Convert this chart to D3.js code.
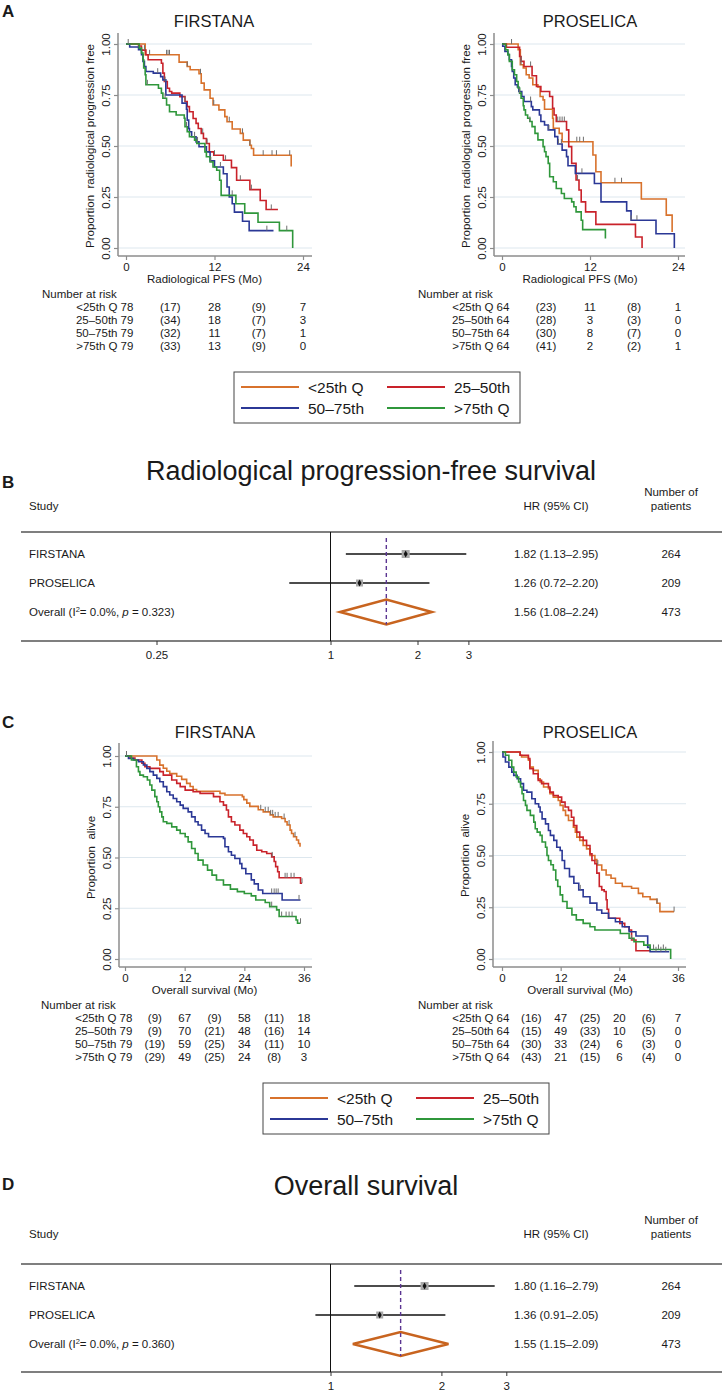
<!DOCTYPE html>
<html><head><meta charset="utf-8">
<script src="https://cdn.jsdelivr.net/npm/d3@7"></script>
<style>
html,body{margin:0;padding:0;background:#fff;}
svg{display:block;font-family:"Liberation Sans",Arial,Helvetica,sans-serif;}
text{white-space:pre;}
</style></head><body>
<svg id="fig" width="722" height="1393"></svg>
<script>
// ================= DATA =================
const groups = ["<25th Q", "25–50th", "50–75th", ">75th Q"];
const survTicks = [0, 0.25, 0.5, 0.75, 1];
const pfsTicks = [0, 12, 24];
const osTicks = [0, 12, 24, 36];
const pfsRiskTimes = [0, 6, 12, 18, 24];
const osRiskTimes = [0, 6, 12, 18, 24, 30, 36];

// Panel A - FIRSTANA (radiological PFS), [month, survival] step points
const pfsFirstanaQ1 = [[0,1],[2.6,0.947],[7.2,0.911],[8.3,0.89],[8.7,0.874],[9.9,0.854],[10.2,0.808],[10.6,0.775],[11.4,0.734],[11.8,0.701],[12.6,0.677],[13.4,0.644],[13.7,0.619],[14.4,0.583],[15.5,0.562],[15.9,0.529],[16.8,0.504],[17.0,0.488],[17.3,0.455],[22.4,0.40]];
const pfsFirstanaQ1Cens = [0.3,3.2,5.5,5.7,5.9,8.3,10.1,11.9,14.0,15.8,16.8,18.6,19.8,20.4,22.2];
const pfsFirstanaQ2 = [[0,1],[1.7,0.99],[2.1,0.97],[2.7,0.947],[3.0,0.923],[4.8,0.906],[5.0,0.857],[5.2,0.816],[5.6,0.783],[5.9,0.767],[6.2,0.759],[7.3,0.742],[8.0,0.718],[8.3,0.693],[8.6,0.668],[9.1,0.635],[9.5,0.611],[9.8,0.586],[10.2,0.562],[10.5,0.537],[10.9,0.512],[11.3,0.471],[11.9,0.455],[13.2,0.43],[14.3,0.394],[15.0,0.332],[16.8,0.286],[18.2,0.233],[19.0,0.189],[20.6,0.189]];
const pfsFirstanaQ2Cens = [2.5,5.3,8.0,10.4,11.0,12.0,13.5,15.5,17.0,19.7];
const pfsFirstanaQ3 = [[0,1],[0.5,0.985],[1.7,0.972],[2.1,0.947],[2.3,0.915],[2.5,0.89],[2.7,0.865],[3.7,0.857],[4.7,0.84],[5.0,0.824],[5.4,0.75],[7.6,0.71],[8.2,0.68],[8.3,0.627],[8.5,0.586],[8.6,0.57],[8.9,0.545],[9.5,0.52],[9.9,0.496],[10.9,0.471],[11.4,0.427],[12.0,0.397],[13.2,0.364],[13.7,0.299],[14.0,0.25],[14.4,0.217],[14.7,0.176],[15.8,0.131],[16.7,0.085],[20.0,0.085]];
const pfsFirstanaQ3Cens = [4.3,9.3,9.7,12.8,19.1];
const pfsFirstanaQ4 = [[0,1],[1.8,0.98],[2.1,0.956],[2.3,0.923],[2.4,0.882],[2.6,0.849],[2.7,0.8],[4.4,0.783],[4.8,0.759],[5.0,0.734],[5.5,0.701],[5.9,0.668],[6.8,0.652],[7.9,0.636],[8.0,0.594],[8.3,0.57],[8.6,0.545],[9.3,0.529],[9.6,0.512],[10.7,0.471],[10.9,0.447],[11.4,0.422],[11.8,0.397],[12.3,0.381],[12.7,0.332],[12.9,0.258],[14.9,0.217],[16.1,0.171],[17.9,0.126],[20.8,0.085],[22.6,0]];
const pfsFirstanaQ4Cens = [2.9,5.3,8.2,11.5,14.4,21.8];

// Panel A - PROSELICA (radiological PFS)
const pfsProselicaQ1 = [[0,1],[2.2,0.972],[2.5,0.898],[2.9,0.882],[3.3,0.849],[3.7,0.833],[4.2,0.8],[4.9,0.789],[5.2,0.743],[5.6,0.726],[5.8,0.68],[6.9,0.636],[7.0,0.587],[7.8,0.562],[8.2,0.521],[12.4,0.456],[12.8,0.374],[13.5,0.32],[19.0,0.24],[22.4,0.161],[23.2,0.079]];
const pfsProselicaQ1Cens = [1.3,2.6,10.2,10.6,11.1,15.4,16.3];
const pfsProselicaQ2 = [[0,1],[0.6,0.984],[2.4,0.939],[2.6,0.915],[3.0,0.89],[4.1,0.844],[4.7,0.792],[5.3,0.767],[6.5,0.743],[6.9,0.685],[7.1,0.652],[7.4,0.62],[8.8,0.579],[9.1,0.497],[9.5,0.415],[10.1,0.333],[10.5,0.284],[10.8,0.226],[11.4,0.177],[12.8,0.116],[18.2,0.054],[19.1,0]];
const pfsProselicaQ2Cens = [2.6,3.9,7.6,7.9,8.2,8.5,10.3];
const pfsProselicaQ3 = [[0,1],[0.1,0.989],[0.4,0.964],[0.8,0.948],[1.0,0.923],[1.3,0.89],[1.4,0.866],[1.6,0.833],[1.8,0.8],[2.1,0.789],[2.3,0.767],[2.7,0.743],[3.0,0.718],[4.0,0.693],[4.2,0.677],[5.1,0.652],[5.3,0.62],[5.8,0.603],[6.3,0.579],[7.2,0.546],[7.6,0.51],[8.2,0.48],[8.8,0.448],[9.0,0.403],[10.0,0.366],[12.6,0.316],[13.5,0.226],[17.0,0.182],[17.6,0.136],[21.0,0.07],[23.5,0]];
const pfsProselicaQ3Cens = [3.9,6.4,7.7,8.1,10.9,17.6,18.4];
const pfsProselicaQ4 = [[0,1],[0.5,0.972],[0.8,0.948],[1.0,0.915],[1.4,0.874],[1.7,0.849],[2.0,0.816],[2.2,0.784],[2.4,0.759],[2.6,0.734],[2.9,0.697],[3.0,0.677],[3.2,0.652],[3.5,0.636],[3.8,0.62],[4.1,0.595],[4.5,0.562],[4.9,0.53],[5.6,0.497],[5.8,0.472],[6.0,0.448],[6.3,0.415],[6.5,0.349],[7.0,0.325],[7.4,0.292],[8.1,0.267],[8.5,0.243],[9.5,0.226],[9.8,0.202],[10.1,0.177],[10.8,0.136],[11.0,0.09],[14.1,0.046]];
const pfsProselicaQ4Cens = [2.4,3.8];

// Panel C - FIRSTANA (overall survival)
const osFirstanaQ1 = [[0,1],[6.4,0.98],[7.0,0.955],[7.7,0.94],[8.4,0.925],[9.0,0.913],[10.4,0.9],[11.4,0.885],[12.4,0.865],[13.1,0.85],[13.7,0.835],[14.4,0.826],[19.1,0.816],[20.1,0.808],[23.6,0.8],[23.9,0.785],[24.5,0.768],[25.1,0.752],[26.8,0.735],[27.8,0.725],[29.2,0.71],[29.8,0.7],[31.5,0.692],[32.2,0.676],[32.6,0.66],[33.2,0.635],[33.5,0.618],[33.9,0.602],[34.5,0.586],[34.9,0.569],[35.2,0.553]];
const osFirstanaQ1Cens = [0.3,27.3,28.2,28.8,29.3,29.7,30.2,30.8,32.0,33.0,34.2];
const osFirstanaQ2 = [[0,1],[1.0,0.99],[2.0,0.98],[3.4,0.964],[4.0,0.947],[5.0,0.939],[7.0,0.923],[7.7,0.906],[9.4,0.882],[10.4,0.865],[11.1,0.849],[12.1,0.832],[13.7,0.824],[15.1,0.816],[17.8,0.8],[19.1,0.775],[19.8,0.758],[20.4,0.734],[20.8,0.7],[21.4,0.676],[22.1,0.66],[23.1,0.635],[23.8,0.618],[24.5,0.602],[25.1,0.586],[25.8,0.561],[26.5,0.536],[27.5,0.528],[28.5,0.52],[29.5,0.503],[30.0,0.48],[30.3,0.455],[30.7,0.43],[31.0,0.40],[35.3,0.373],[35.6,0.373]];
const osFirstanaQ2Cens = [0.3,29.6,32.2,32.6,33.4,34.0,35.6];
const osFirstanaQ3 = [[0,1],[0.7,0.988],[1.7,0.98],[2.7,0.972],[3.7,0.956],[4.4,0.939],[5.0,0.923],[5.7,0.906],[6.4,0.89],[7.0,0.873],[7.7,0.849],[8.4,0.824],[9.0,0.808],[9.7,0.791],[10.4,0.775],[11.1,0.758],[11.7,0.742],[12.7,0.725],[13.4,0.7],[14.1,0.676],[14.7,0.66],[15.4,0.635],[16.1,0.618],[16.8,0.602],[19.8,0.594],[20.1,0.553],[20.8,0.528],[21.4,0.511],[22.1,0.495],[23.1,0.47],[23.5,0.446],[24.3,0.42],[25.4,0.39],[26.0,0.37],[26.8,0.34],[27.7,0.323],[31.6,0.291],[35.3,0.291]];
const osFirstanaQ3Cens = [29.5,30.0,30.4,30.8,35.0];
const osFirstanaQ4 = [[0,1],[1.3,0.98],[2.3,0.947],[2.7,0.923],[3.0,0.906],[3.7,0.898],[4.5,0.882],[5.0,0.857],[5.4,0.832],[6.0,0.8],[6.4,0.775],[6.7,0.75],[7.0,0.725],[7.4,0.7],[7.7,0.676],[8.4,0.668],[9.4,0.651],[10.4,0.635],[11.1,0.618],[12.1,0.602],[12.7,0.577],[13.4,0.544],[14.1,0.52],[14.7,0.487],[15.7,0.463],[16.6,0.438],[17.5,0.413],[18.4,0.389],[19.8,0.365],[21.2,0.344],[22.6,0.332],[24.0,0.323],[25.4,0.311],[26.3,0.291],[28.2,0.278],[29.1,0.258],[30.5,0.242],[31.0,0.209],[34.4,0.192],[34.7,0.176],[35.3,0.176]];
const osFirstanaQ4Cens = [29.5,31.5,32.4,33.0,33.6,35.3];

// Panel C - PROSELICA (overall survival)
const osProselicaQ1 = [[0,1],[3.7,0.984],[4.0,0.976],[5.4,0.96],[5.7,0.927],[6.4,0.911],[7.4,0.871],[7.8,0.855],[8.5,0.831],[9.5,0.823],[9.8,0.798],[10.5,0.782],[11.5,0.766],[11.9,0.742],[12.5,0.718],[13.0,0.694],[13.6,0.669],[14.6,0.637],[15.0,0.613],[15.3,0.589],[15.9,0.573],[16.6,0.548],[17.3,0.532],[18.0,0.5],[19.0,0.48],[19.4,0.454],[20.4,0.43],[21.3,0.406],[22.3,0.39],[23.2,0.366],[24.6,0.35],[26.5,0.342],[27.9,0.317],[28.8,0.301],[30.3,0.288],[31.7,0.269],[32.3,0.229],[35.2,0.229]];
const osProselicaQ1Cens = [19.6,31.7,35.2];
const osProselicaQ2 = [[0,1],[3.7,0.984],[5.4,0.968],[5.7,0.919],[6.4,0.895],[7.4,0.863],[8.1,0.847],[9.5,0.831],[9.8,0.806],[10.5,0.79],[11.5,0.782],[12.2,0.758],[12.9,0.734],[13.6,0.718],[14.2,0.685],[14.7,0.645],[15.3,0.613],[15.9,0.589],[16.6,0.573],[17.3,0.548],[18.0,0.508],[18.4,0.476],[19.0,0.46],[19.4,0.415],[19.9,0.35],[20.4,0.334],[20.9,0.326],[21.3,0.286],[21.5,0.24],[21.8,0.197],[24.1,0.172],[25.1,0.156],[26.0,0.14],[26.5,0.092],[27.4,0.04],[30.3,0.04]];
const osProselicaQ2Cens = [26.5];
const osProselicaQ3 = [[0,1],[0.2,0.976],[0.7,0.952],[1.4,0.927],[2.0,0.903],[2.4,0.887],[3.1,0.871],[3.8,0.847],[4.4,0.815],[5.1,0.806],[6.1,0.774],[6.8,0.75],[7.5,0.734],[7.8,0.71],[8.2,0.677],[8.9,0.653],[9.5,0.621],[9.9,0.597],[10.6,0.573],[11.2,0.54],[11.9,0.524],[12.3,0.476],[12.8,0.437],[13.8,0.398],[14.7,0.366],[15.7,0.334],[16.6,0.301],[18.0,0.27],[19.4,0.237],[20.4,0.221],[21.8,0.197],[23.2,0.18],[24.6,0.156],[26.0,0.132],[27.4,0.111],[29.8,0.056],[30.3,0.035],[34.2,0.035]];
const osProselicaQ3Cens = [16.0,31.5,32.5,33.5];
const osProselicaQ4 = [[0,1],[0.7,0.984],[1.4,0.96],[2.0,0.927],[2.4,0.903],[2.9,0.879],[3.4,0.855],[3.8,0.831],[4.1,0.798],[4.4,0.766],[4.8,0.742],[5.1,0.718],[5.8,0.694],[6.5,0.661],[6.8,0.629],[7.2,0.613],[7.8,0.597],[8.2,0.565],[8.9,0.54],[9.2,0.5],[9.5,0.476],[10.0,0.455],[10.5,0.43],[11.0,0.382],[11.4,0.35],[11.9,0.31],[12.4,0.278],[13.3,0.245],[14.3,0.213],[15.2,0.189],[16.6,0.172],[18.0,0.156],[19.0,0.14],[24.2,0.123],[26.0,0.1],[27.0,0.083],[29.0,0.067],[30.3,0.046],[34.5,0]];
const osProselicaQ4Cens = [31.0,32.0,33.0];

// Number at risk (at-risk counts at even columns, events in parentheses at odd columns)
const pfsRiskFirstana = [[78,17,28,9,7],[79,34,18,7,3],[79,32,11,7,1],[79,33,13,9,0]];
const pfsRiskProselica = [[64,23,11,8,1],[64,28,3,3,0],[64,30,8,7,0],[64,41,2,2,1]];
const osRiskFirstana = [[78,9,67,9,58,11,18],[79,9,70,21,48,16,14],[79,19,59,25,34,11,10],[79,29,49,25,24,8,3]];
const osRiskProselica = [[64,16,47,25,20,6,7],[64,15,49,33,10,5,0],[64,30,33,24,6,3,0],[64,43,21,15,6,4,0]];

// Forest plots
const studies = ["FIRSTANA", "PROSELICA"];
const patients = [264, 209, 473];
const pfsHR = [1.82, 1.26], pfsLo = [1.13, 0.72], pfsHi = [2.95, 2.20];
const pfsOverall = [1.56, 1.08, 2.24];
const pfsHet = ["0.0%", "0.323"];
const pfsAxisTicks = [0.25, 1, 2, 3];
const osHR = [1.80, 1.36], osLo = [1.16, 0.91], osHi = [2.79, 2.05];
const osOverall = [1.55, 1.15, 2.09];
const osHet = ["0.0%", "0.360"];
const osAxisTicks = [1, 2, 3];

// ================= STYLE =================
const colors = ["#d8722c", "#c9222a", "#2b3896", "#2f973b"];
const gridColor = "#dde7ee";
const axisColor = "#8c8c8c";
const textColor = "#1a1a1a";

const svg = d3.select("#fig");
svg.append("rect").attr("width", 722).attr("height", 1393).attr("fill", "#fff");

function addText(parent, x, y, s, size, anchor = "start", weight = "normal") {
  return parent.append("text").attr("x", x).attr("y", y).attr("font-size", size)
    .attr("text-anchor", anchor).attr("font-weight", weight).attr("fill", textColor).text(s);
}

function stepValue(curve, t) {
  let v = curve[0][1];
  for (const d of curve) { if (d[0] <= t) v = d[1]; }
  return v;
}

function kmPanel(p) {
  const g = svg.append("g");
  const x = d3.scaleLinear().domain([0, p.tmax]).range([p.x0, p.x1]);
  const y = d3.scaleLinear().domain([0, 1]).range([p.yBot, p.yTop]);

  g.selectAll("line.grid").data(survTicks).join("line").attr("class", "grid")
    .attr("x1", p.axisX).attr("x2", p.gridRight)
    .attr("y1", d => y(d)).attr("y2", d => y(d))
    .attr("stroke", gridColor).attr("stroke-width", 1);

  // axis lines
  g.append("line").attr("x1", p.axisX).attr("x2", p.axisX).attr("y1", p.axisTop).attr("y2", p.xAxisY)
    .attr("stroke", axisColor).attr("stroke-width", 1.5);
  g.append("line").attr("x1", p.axisX).attr("x2", p.gridRight).attr("y1", p.xAxisY).attr("y2", p.xAxisY)
    .attr("stroke", axisColor).attr("stroke-width", 1.5);

  const ya = g.append("g").attr("transform", `translate(${p.axisX},0)`)
    .call(d3.axisLeft(y).tickValues(survTicks).tickFormat(d3.format(".2f")).tickSize(4).tickSizeOuter(0));
  ya.attr("font-family", null).attr("font-size", null);
  ya.select(".domain").remove();
  ya.selectAll("line").attr("stroke", axisColor).attr("stroke-width", 1.2);
  ya.selectAll("text").attr("transform", "rotate(-90)").attr("x", 0).attr("y", -8).attr("dy", null)
    .attr("text-anchor", "middle").attr("font-size", 11.5).attr("fill", textColor);

  const xa = g.append("g").attr("transform", `translate(0,${p.xAxisY})`)
    .call(d3.axisBottom(x).tickValues(p.ticks).tickSize(4).tickSizeOuter(0));
  xa.attr("font-family", null).attr("font-size", null);
  xa.select(".domain").remove();
  xa.selectAll("line").attr("stroke", axisColor).attr("stroke-width", 1.2);
  xa.selectAll("text").attr("font-size", 11.5).attr("fill", textColor).attr("y", 7);

  // titles
  addText(g, p.titleX, p.titleY, p.title, 16.5, "middle");
  addText(g, (p.x0 + p.x1) / 2 - 10, p.xAxisY + 27, p.xtitle, 11.5, "middle");
  addText(g, 0, 0, p.ytitle, 11.5, "middle")
    .attr("transform", `translate(${p.axisX - 24},${(p.yTop + p.yBot) / 2}) rotate(-90)`);

  // curves
  const line = d3.line().x(d => x(d[0])).y(d => y(d[1])).curve(d3.curveStepAfter);
  p.curves.forEach((c, i) => {
    g.append("path").attr("d", line(c)).attr("fill", "none").attr("stroke", colors[i])
      .attr("stroke-width", 1.6).attr("stroke-linejoin", "miter");
  });
  p.cens.forEach((cs, i) => {
    g.selectAll(null).data(cs).join("line")
      .attr("x1", d => x(d)).attr("x2", d => x(d))
      .attr("y1", d => y(stepValue(p.curves[i], d)))
      .attr("y2", d => y(stepValue(p.curves[i], d)) - 5)
      .attr("stroke", "#6e6e6e").attr("stroke-width", 1);
  });

  // number at risk
  const r0 = p.xAxisY + 42;
  addText(g, p.x0 - 84, r0, "Number at risk", 11.5);
  p.risk.forEach((row, i) => {
    const yy = r0 + 13 * (i + 1);
    addText(g, p.x0 - 8.5, yy, groups[i], 11.5, "end");
    row.forEach((v, j) => {
      const s = j % 2 === 1 ? `(${v})` : String(v);
      addText(g, x(p.riskTimes[j]) + (j === 0 ? 1 : 0), yy, s, 11.5, "middle");
    });
  });
}

function legend(left, top) {
  const g = svg.append("g");
  g.append("rect").attr("x", left).attr("y", top).attr("width", 286).attr("height", 51)
    .attr("fill", "#fff").attr("stroke", "#444").attr("stroke-width", 1);
  const cols = [[7, 74], [153, 220]];
  groups.forEach((name, i) => {
    const c = cols[i % 2], ry = top + 15 + 21 * Math.floor(i / 2);
    g.append("line").attr("x1", left + c[0]).attr("x2", left + c[0] + 58).attr("y1", ry).attr("y2", ry)
      .attr("stroke", colors[i]).attr("stroke-width", 2);
    addText(g, left + c[1], ry + 5.5, name, 15.5);
  });
}

function forest(p) {
  const g = svg.append("g");
  const x = d3.scaleLog().domain(p.domain).range(p.range);
  addText(g, 2, p.labelY, p.label, 17, "start", "bold");
  addText(g, p.titleX, p.titleY, p.title, 27, "middle");
  addText(g, 29, p.headY, "Study", 11.5);
  addText(g, 556, p.headY, "HR (95% CI)", 11.5, "middle");
  addText(g, 671, p.headY - 14, "Number of", 11.5, "middle");
  addText(g, 671, p.headY, "patients", 11.5, "middle");

  g.append("line").attr("x1", 21).attr("x2", 722).attr("y1", p.lineTop).attr("y2", p.lineTop)
    .attr("stroke", "#555").attr("stroke-width", 1.4);
  g.append("line").attr("x1", 21).attr("x2", 722).attr("y1", p.axisY).attr("y2", p.axisY)
    .attr("stroke", "#555").attr("stroke-width", 1.4);
  const xa = g.append("g").attr("transform", `translate(0,${p.axisY})`)
    .call(d3.axisBottom(x).tickValues(p.ticks).tickFormat(d => String(d)).tickSize(4).tickSizeOuter(0));
  xa.attr("font-family", null).attr("font-size", null);
  xa.select(".domain").remove();
  xa.selectAll("line").attr("stroke", "#333");
  xa.selectAll("text").attr("font-size", 11.5).attr("fill", textColor).attr("y", 10);

  g.append("line").attr("x1", x(1)).attr("x2", x(1)).attr("y1", p.lineTop).attr("y2", p.axisY)
    .attr("stroke", "#111").attr("stroke-width", 1);

  p.hr.forEach((hr, i) => {
    const ry = p.rows[i];
    addText(g, 29, ry + 4, studies[i], 11.5);
    g.append("line").attr("x1", x(p.lo[i])).attr("x2", x(p.hi[i])).attr("y1", ry).attr("y2", ry)
      .attr("stroke", "#111").attr("stroke-width", 1.5);
    const bs = p.box[i];
    g.append("rect").attr("x", x(hr) - bs / 2).attr("y", ry - bs / 2).attr("width", bs).attr("height", bs)
      .attr("fill", "#a8a8a8");
    g.append("path").attr("d", d3.symbol(d3.symbolDiamond, 14)())
      .attr("transform", `translate(${x(hr)},${ry})`).attr("fill", "#111");
    addText(g, 514, ry + 4, `${hr.toFixed(2)} (${p.lo[i].toFixed(2)}–${p.hi[i].toFixed(2)})`, 11.5);
    addText(g, 671, ry + 4, String(patients[i]), 11.5, "middle");
  });

  const oy = p.rows[2], [ohr, olo, ohi] = p.overall;
  const t = addText(g, 29, oy + 4, "", 11.5);
  t.append("tspan").text("Overall (I");
  t.append("tspan").attr("font-size", 7.5).attr("dy", -4.5).text("2");
  t.append("tspan").attr("dy", 4.5).text(`= ${p.het[0]}, `);
  t.append("tspan").attr("font-style", "italic").text("p");
  t.append("tspan").text(` = ${p.het[1]})`);
  addText(g, 514, oy + 4, `${ohr.toFixed(2)} (${olo.toFixed(2)}–${ohi.toFixed(2)})`, 11.5);
  addText(g, 671, oy + 4, String(patients[2]), 11.5, "middle");

  g.append("path")
    .attr("d", `M${x(olo)},${oy}L${x(ohr)},${oy - p.dh}L${x(ohi)},${oy}L${x(ohr)},${oy + p.dh}Z`)
    .attr("fill", "none").attr("stroke", "#c8641f").attr("stroke-width", 2.6).attr("stroke-linejoin", "miter");
  g.append("line").attr("x1", x(ohr)).attr("x2", x(ohr)).attr("y1", p.lineTop + 6).attr("y2", oy + p.dh)
    .attr("stroke", "#5b3592").attr("stroke-width", 1.4).attr("stroke-dasharray", "4,3");
}

// ================= DRAW =================
addText(svg, 2, 17, "A", 17, "start", "bold");
kmPanel({ tmax: 24, x0: 126, x1: 303, yTop: 44, yBot: 248, axisX: 118, axisTop: 33, gridRight: 312, xAxisY: 256,
  ticks: pfsTicks, title: "FIRSTANA", titleX: 214, titleY: 27, xtitle: "Radiological PFS (Mo)",
  ytitle: "Proportion  radiological progression free",
  curves: [pfsFirstanaQ1, pfsFirstanaQ2, pfsFirstanaQ3, pfsFirstanaQ4],
  cens: [pfsFirstanaQ1Cens, pfsFirstanaQ2Cens, pfsFirstanaQ3Cens, pfsFirstanaQ4Cens],
  risk: pfsRiskFirstana, riskTimes: pfsRiskTimes });
kmPanel({ tmax: 24, x0: 502, x1: 678, yTop: 44, yBot: 248, axisX: 494, axisTop: 33, gridRight: 685, xAxisY: 256,
  ticks: pfsTicks, title: "PROSELICA", titleX: 590, titleY: 27, xtitle: "Radiological PFS (Mo)",
  ytitle: "Proportion  radiological progression free",
  curves: [pfsProselicaQ1, pfsProselicaQ2, pfsProselicaQ3, pfsProselicaQ4],
  cens: [pfsProselicaQ1Cens, pfsProselicaQ2Cens, pfsProselicaQ3Cens, pfsProselicaQ4Cens],
  risk: pfsRiskProselica, riskTimes: pfsRiskTimes });
legend(234, 372);

forest({ label: "B", labelY: 488, title: "Radiological progression-free survival", titleX: 371, titleY: 480,
  headY: 510, lineTop: 532, rows: [554, 583, 612], axisY: 641, dh: 12.5,
  domain: [0.25, 3], range: [156.5, 468.4], ticks: pfsAxisTicks,
  hr: pfsHR, lo: pfsLo, hi: pfsHi, overall: pfsOverall, het: pfsHet, box: [8, 7] });

addText(svg, 2, 728, "C", 17, "start", "bold");
kmPanel({ tmax: 36, x0: 125, x1: 304, yTop: 756, yBot: 959, axisX: 119, axisTop: 743, gridRight: 312, xAxisY: 967,
  ticks: osTicks, title: "FIRSTANA", titleX: 215, titleY: 738, xtitle: "Overall survival (Mo)",
  ytitle: "Proportion  alive",
  curves: [osFirstanaQ1, osFirstanaQ2, osFirstanaQ3, osFirstanaQ4],
  cens: [osFirstanaQ1Cens, osFirstanaQ2Cens, osFirstanaQ3Cens, osFirstanaQ4Cens],
  risk: osRiskFirstana, riskTimes: osRiskTimes });
kmPanel({ tmax: 36, x0: 502, x1: 678, yTop: 752, yBot: 959, axisX: 493, axisTop: 741, gridRight: 686, xAxisY: 967,
  ticks: osTicks, title: "PROSELICA", titleX: 590, titleY: 738, xtitle: "Overall survival (Mo)",
  ytitle: "Proportion  alive",
  curves: [osProselicaQ1, osProselicaQ2, osProselicaQ3, osProselicaQ4],
  cens: [osProselicaQ1Cens, osProselicaQ2Cens, osProselicaQ3Cens, osProselicaQ4Cens],
  risk: osRiskProselica, riskTimes: osRiskTimes });
legend(263, 1083);

forest({ label: "D", labelY: 1190, title: "Overall survival", titleX: 366, titleY: 1195,
  headY: 1238, lineTop: 1264, rows: [1286, 1315, 1344], axisY: 1372, dh: 12,
  domain: [1, 3], range: [330.5, 506.3], ticks: osAxisTicks,
  hr: osHR, lo: osLo, hi: osHi, overall: osOverall, het: osHet, box: [8, 7] });
</script>
</body></html>
